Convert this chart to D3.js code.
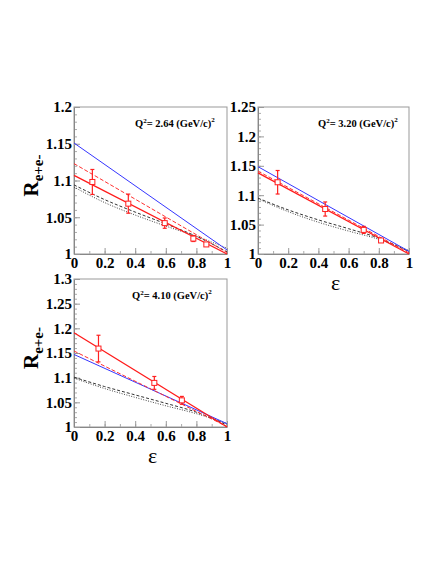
<!DOCTYPE html>
<html>
<head>
<meta charset="utf-8">
<script src="https://cdn.jsdelivr.net/npm/d3@7"></script>
<style>
  body { margin: 0; background: #fff; }
  svg { display: block; }
  .tick text { font-family: "Liberation Serif", serif; font-weight: bold; font-size: 15px; fill: #000; }
</style>
</head>
<body>
<div id="chart"></div>
<script>
// values
var q2Labels = ["2.64", "3.20", "4.10"];
var yMaxes = [1.2, 1.25, 1.3];
var xTicks = [0, 0.2, 0.4, 0.6, 0.8, 1];

// measured points (epsilon, ratio, error)
var pointEps = [
  [0.12, 0.355, 0.593, 0.78, 0.865],
  [0.13, 0.445, 0.70, 0.815],
  [0.16, 0.525, 0.705]
];
var pointR = [
  [1.098, 1.0685, 1.042, 1.021, 1.013],
  [1.122, 1.0765, 1.041, 1.023],
  [1.159, 1.0894, 1.054]
];
var pointErr = [
  [0.017, 0.013, 0.007, 0.004, 0.002],
  [0.020, 0.012, 0.006, 0.003],
  [0.027, 0.013, 0.008]
];

// straight fit lines, value at eps = 0 and eps = 1
var lineEnds = [0, 1];
var blueLine = [[1.151, 1.0055], [1.1485, 1.0045], [1.147, 1.0067]];
var redSolid = [[1.107, 1.0], [1.138, 1.0], [1.191, 1.0]];
var redDashed = [[1.123, 1.002], [1.141, 1.002], [1.154, 1.001]];

// curved calculations, sampled at curveEps
var curveEps = [0, 0.2, 0.4, 0.6, 0.8, 1];
var blackDashed = [
  [1.094, 1.074, 1.057, 1.041, 1.024, 1.003],
  [1.095, 1.075, 1.058, 1.043, 1.027, 1.004],
  [1.101, 1.082, 1.065, 1.048, 1.030, 1.004]
];
var blackDotted = [
  [1.091, 1.070, 1.053, 1.038, 1.024, 1.008],
  [1.094, 1.072, 1.054, 1.039, 1.025, 1.006],
  [1.099, 1.078, 1.060, 1.043, 1.027, 1.007]
];

var W = 442, H = 571;
var frames = [
  {x0: 74, x1: 227, y0: 107, y1: 254, ytitle: true, xtitle: false, qx: 135, qy: 127},
  {x0: 258, x1: 409, y0: 107, y1: 254, ytitle: false, xtitle: true, qx: 318, qy: 127},
  {x0: 74, x1: 227, y0: 279, y1: 427, ytitle: true, xtitle: true, qx: 132, qy: 299}
];

var svg = d3.select("#chart").append("svg").attr("width", W).attr("height", H);

function fmt(v) { return String(+v.toFixed(2)); }

frames.forEach(function (f, i) {
  var x = d3.scaleLinear().domain([0, 1]).range([f.x0, f.x1]);
  var y = d3.scaleLinear().domain([1, yMaxes[i]]).range([f.y1, f.y0]);
  var g = svg.append("g");

  // frame
  g.append("rect").attr("x", f.x0).attr("y", f.y0)
    .attr("width", f.x1 - f.x0).attr("height", f.y1 - f.y0)
    .attr("fill", "none").attr("stroke", "#999").attr("stroke-width", 1);

  // minor ticks
  var xMinor = d3.range(0, 1.0001, 0.1);
  var yMinor = d3.range(1, yMaxes[i] + 0.0001, 0.01);
  g.append("g").attr("transform", "translate(0," + f.y1 + ")")
    .call(d3.axisBottom(x).tickValues(xMinor).tickSizeInner(-3).tickSizeOuter(0).tickFormat(""))
    .call(function (a) { a.select(".domain").remove(); a.selectAll("line").attr("stroke", "#aaa"); });
  g.append("g").attr("transform", "translate(" + f.x0 + ",0)")
    .call(d3.axisLeft(y).tickValues(yMinor).tickSizeInner(-3).tickSizeOuter(0).tickFormat(""))
    .call(function (a) { a.select(".domain").remove(); a.selectAll("line").attr("stroke", "#aaa"); });

  // major ticks and labels
  var yMajor = d3.range(1, yMaxes[i] + 0.0001, 0.05);
  g.append("g").attr("transform", "translate(0," + f.y1 + ")")
    .call(d3.axisBottom(x).tickValues(xTicks).tickSizeInner(-6).tickSizeOuter(0).tickPadding(3).tickFormat(fmt))
    .call(function (a) { a.select(".domain").attr("stroke", "#888"); a.selectAll("line").attr("stroke", "#999"); });
  g.append("g").attr("transform", "translate(" + f.x0 + ",0)")
    .call(d3.axisLeft(y).tickValues(yMajor).tickSizeInner(-6).tickSizeOuter(0).tickPadding(2).tickFormat(fmt))
    .call(function (a) { a.select(".domain").attr("stroke", "#888"); a.selectAll("line").attr("stroke", "#999"); });

  var straight = d3.line().x(function (d) { return x(d[0]); }).y(function (d) { return y(d[1]); });
  var curved = d3.line().x(function (d) { return x(d[0]); }).y(function (d) { return y(d[1]); })
    .curve(d3.curveMonotoneX);

  var plot = g.append("g");
  plot.append("path").datum(curveEps.map(function (e, k) { return [e, blackDotted[i][k]]; }))
    .attr("d", curved).attr("fill", "none").attr("stroke", "#444").attr("stroke-width", 1)
    .attr("stroke-dasharray", "1,1.5");
  plot.append("path").datum(curveEps.map(function (e, k) { return [e, blackDashed[i][k]]; }))
    .attr("d", curved).attr("fill", "none").attr("stroke", "#333").attr("stroke-width", 1)
    .attr("stroke-dasharray", "3,2");
  plot.append("path").datum(lineEnds.map(function (e, k) { return [e, blueLine[i][k]]; }))
    .attr("d", straight).attr("fill", "none").attr("stroke", "#3636ff").attr("stroke-width", 1);
  plot.append("path").datum(lineEnds.map(function (e, k) { return [e, redDashed[i][k]]; }))
    .attr("d", straight).attr("fill", "none").attr("stroke", "#ff3030").attr("stroke-width", 1)
    .attr("stroke-dasharray", "4,2");
  plot.append("path").datum(lineEnds.map(function (e, k) { return [e, redSolid[i][k]]; }))
    .attr("d", straight).attr("fill", "none").attr("stroke", "#ff1a1a").attr("stroke-width", 1.3);

  // data points
  var pts = pointEps[i].map(function (e, k) { return {e: e, r: pointR[i][k], err: pointErr[i][k]}; });
  var pg = plot.selectAll("g.pt").data(pts).enter().append("g").attr("class", "pt");
  pg.append("line")
    .attr("x1", function (d) { return x(d.e); }).attr("x2", function (d) { return x(d.e); })
    .attr("y1", function (d) { return y(d.r + d.err); }).attr("y2", function (d) { return y(d.r - d.err); })
    .attr("stroke", "#ff2020").attr("stroke-width", 1.2);
  [1, -1].forEach(function (s) {
    pg.append("line")
      .attr("x1", function (d) { return x(d.e) - 2; }).attr("x2", function (d) { return x(d.e) + 2; })
      .attr("y1", function (d) { return y(d.r + s * d.err); }).attr("y2", function (d) { return y(d.r + s * d.err); })
      .attr("stroke", "#ff2020").attr("stroke-width", 1.2);
  });
  pg.append("rect")
    .attr("x", function (d) { return x(d.e) - 2.5; }).attr("y", function (d) { return y(d.r) - 2.5; })
    .attr("width", 5).attr("height", 5)
    .attr("fill", "#fff").attr("stroke", "#ff2020").attr("stroke-width", 1);

  // Q^2 label
  var q = g.append("text").attr("x", f.qx).attr("y", f.qy)
    .attr("font-family", "Liberation Serif, serif").attr("font-weight", "bold").attr("font-size", 10.5);
  q.append("tspan").text("Q");
  q.append("tspan").attr("font-size", 7).attr("dy", -4).text("2");
  q.append("tspan").attr("dy", 4).text("= " + q2Labels[i] + " (GeV/c)");
  q.append("tspan").attr("font-size", 7).attr("dy", -5).text("2");

  // axis titles
  if (f.ytitle) {
    var cy = (f.y0 + f.y1) / 2 - 5;
    var t = g.append("text").attr("transform", "translate(38," + cy + ") rotate(-90)")
      .attr("text-anchor", "middle")
      .attr("font-family", "Liberation Serif, serif").attr("font-weight", "bold").attr("font-size", 21);
    t.append("tspan").text("R");
    t.append("tspan").attr("font-size", 15).attr("dy", 5).text("e+e-");
  }
  if (f.xtitle) {
    g.append("text").attr("x", (f.x0 + f.x1) / 2 + 2).attr("y", f.y1 + 36)
      .attr("text-anchor", "middle")
      .attr("font-family", "Liberation Serif, serif").attr("font-size", 22).text("ε");
  }
});
</script>
</body>
</html>
